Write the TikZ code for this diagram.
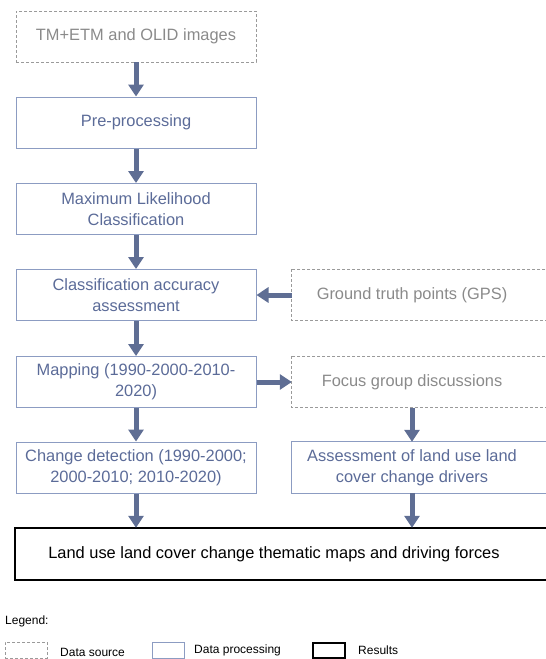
\documentclass[tikz,border=0pt]{standalone}
\usepackage{fontspec}
\setmainfont{Liberation Sans}
\usetikzlibrary{arrows.meta}
\definecolor{arr}{HTML}{5F6E94}
\definecolor{proc}{HTML}{8C9CC2}
\definecolor{proctext}{HTML}{5B6B98}
\definecolor{srcline}{HTML}{9A9A9A}
\definecolor{srctext}{HTML}{8A8A8A}
\begin{document}
\begin{tikzpicture}[x=1pt,y=-1pt,
  base/.style={align=center, inner sep=0pt, font=\fontsize{16.4}{21}\selectfont, minimum width=240pt, minimum height=51pt},
  srcline/.style={draw=srcline, dashed, dash pattern=on 3pt off 2pt, line width=0.8pt},
  procline/.style={draw=proc, line width=1pt},
  resline/.style={draw=black, line width=2pt},
  srcbox/.style={base, srcline, text=srctext},
  procbox/.style={base, procline, text=proctext},
  srctxt/.style={base, text=srctext},
  proctxt/.style={base, text=proctext},
  flow/.style={-{Triangle[width=15pt,length=12pt]}, line width=5pt, draw=arr},
  legtext/.style={font=\fontsize{12}{14}\selectfont, anchor=west, inner sep=0pt}]
\useasboundingbox (0,0) rectangle (546,659);
\clip (0,0) rectangle (546,659);
% left column
\node[srcbox] (tm) at (136,36.5) {TM+ETM and OLID images};
\node[procbox] (pre) at (136,122.5) {Pre-processing};
\node[procbox] (mlc) at (136,209) {Maximum Likelihood\\Classification};
\node[procbox] (acc) at (136,295) {Classification accuracy\\assessment};
\node[procbox] (map) at (136,382) {Mapping (1990-2000-2010-\\2020)};
\node[procbox] (cd) at (136,467.5) {Change detection (1990-2000;\\2000-2010; 2010-2020)};
% right column (boxes run past the right edge)
\node[srctxt] (gt) at (412,295) {Ground truth points (GPS)};
\draw[srcline] (gt.north west) rectangle ([xshift=40pt]gt.south east);
\node[srctxt] (fg) at (412,382) {Focus group discussions};
\draw[srcline] (fg.north west) rectangle ([xshift=40pt]fg.south east);
\node[proctxt] (asd) at (412,467.5) {Assessment of land use land\\cover change drivers};
\draw[procline] (asd.north west) rectangle ([xshift=40pt]asd.south east);
% result
\node[base, minimum width=518pt, minimum height=52pt, text=black] (res) at (274,554) {Land use land cover change thematic maps and driving forces};
\draw[resline] (res.north west) rectangle ([xshift=40pt]res.south east);
% connectors
\draw[flow] (tm.south) -- (pre.north);
\draw[flow] (pre.south) -- (mlc.north);
\draw[flow] (mlc.south) -- (acc.north);
\draw[flow] (acc.south) -- (map.north);
\draw[flow] (map.south) -- (cd.north);
\draw[flow] (gt.west) -- (acc.east);
\draw[flow] (map.east) -- (fg.west);
\draw[flow] (fg.south) -- (asd.north);
\draw[flow] (asd.south) -- (asd.south |- res.north);
\draw[flow] (cd.south) -- (cd.south |- res.north);
% legend
\node[legtext] (leg) at (5,621) {Legend:};
\node[srcline, minimum width=42pt, minimum height=16pt, inner sep=0pt] (l1) at (26,650) {};
\node[legtext] (l1t) at (60,652) {Data source};
\node[procline, minimum width=32pt, minimum height=16pt, inner sep=0pt] (l2) at (168,650) {};
\node[legtext] (l2t) at (194,650) {Data processing};
\node[resline, minimum width=32pt, minimum height=15pt, inner sep=0pt] (l3) at (328.5,650) {};
\node[legtext] (l3t) at (358,650) {Results};
\end{tikzpicture}
\end{document}
